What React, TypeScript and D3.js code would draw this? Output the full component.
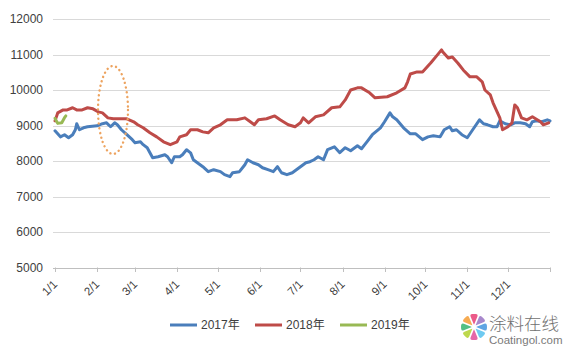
import React from 'react';
import * as d3 from 'd3';

const monthLabels = ['1/1', '2/1', '3/1', '4/1', '5/1', '6/1', '7/1', '8/1', '9/1', '10/1', '11/1', '12/1'];
const monthStartDays = [0, 31, 59, 90, 120, 151, 181, 212, 243, 273, 304, 334];
const yTicks = [5000, 6000, 7000, 8000, 9000, 10000, 11000, 12000];
const seriesNames = ['2017年', '2018年', '2019年'];
const seriesColors = ['#4A7EBB', '#BE4B48', '#98B954'];

const days2017 = [0, 4, 7, 10, 13, 15, 16, 18, 21, 24, 31, 35, 38, 41, 44, 46, 49, 53, 57, 59, 63, 65, 68, 70, 72, 76, 81, 83, 86, 88, 92, 94, 97, 100, 102, 105, 109, 113, 117, 122, 125, 129, 131, 136, 140, 142, 146, 150, 153, 157, 161, 164, 167, 171, 175, 178, 181, 185, 188, 191, 194, 198, 201, 206, 210, 214, 218, 223, 226, 230, 234, 240, 243, 247, 249, 252, 257, 262, 266, 271, 275, 279, 284, 287, 291, 293, 296, 300, 304, 308, 313, 316, 319, 323, 326, 328, 332, 336, 339, 343, 347, 350, 352, 355, 359, 363, 365];
const values2017 = [8850, 8680, 8740, 8655, 8740, 8880, 9050, 8880, 8935, 8965, 8990, 9050, 9075, 8965, 9075, 9020, 8880, 8740, 8600, 8515, 8540, 8460, 8375, 8235, 8090, 8120, 8175, 8120, 7950, 8120, 8120, 8175, 8315, 8230, 8035, 7950, 7840, 7700, 7755, 7700, 7615, 7560, 7670, 7700, 7895, 8035, 7950, 7895, 7810, 7755, 7700, 7840, 7670, 7615, 7670, 7755, 7840, 7950, 7980, 8035, 8120, 8035, 8320, 8400, 8235, 8375, 8290, 8430, 8345, 8540, 8740, 8935, 9105, 9355, 9245, 9160, 8935, 8765, 8765, 8600, 8680, 8710, 8680, 8880, 8965, 8850, 8880, 8740, 8655, 8880, 9160, 9050, 9020, 8965, 8965, 9130, 9050, 9020, 9075, 9075, 9050, 8965, 9105, 9130, 9105, 9160, 9130];

const days2018 = [0, 2, 6, 9, 13, 16, 20, 24, 28, 32, 35, 39, 43, 48, 53, 58, 61, 65, 70, 75, 80, 85, 90, 92, 97, 100, 105, 109, 113, 117, 122, 127, 134, 140, 144, 147, 150, 156, 162, 166, 172, 177, 181, 183, 187, 192, 198, 204, 210, 214, 218, 223, 226, 232, 236, 245, 252, 258, 260, 262, 267, 271, 277, 282, 285, 286, 290, 293, 297, 301, 306, 311, 315, 317, 321, 323, 326, 328, 330, 334, 337, 339, 341, 344, 348, 352, 358, 360, 364];
const values2018 = [9130, 9355, 9440, 9440, 9500, 9440, 9440, 9500, 9470, 9385, 9355, 9215, 9190, 9190, 9190, 9105, 9020, 8935, 8795, 8680, 8540, 8460, 8540, 8680, 8740, 8880, 8880, 8820, 8795, 8935, 9020, 9160, 9160, 9215, 9105, 9020, 9160, 9190, 9270, 9160, 9020, 8965, 9075, 9215, 9075, 9245, 9300, 9500, 9525, 9720, 10000, 10060, 10060, 9920, 9780, 9810, 9920, 10060, 10230, 10450, 10510, 10510, 10760, 10990, 11130, 11070, 10900, 10930, 10760, 10565, 10370, 10370, 10230, 10000, 9860, 9640, 9385, 9215, 8880, 8965, 9075, 9580, 9500, 9215, 9160, 9245, 9105, 9020, 9075];

const days2019 = [0, 2, 5, 7, 8];
const values2019 = [9200, 9060, 9080, 9220, 9270];

const W = 571;
const H = 355;

export default function App() {
  const x = d3.scaleLinear().domain([0, 365]).range([55, 550]);
  const y = d3.scaleLinear().domain([5000, 12000]).range([267.5, 19]);

  const line = d3
    .line<[number, number]>()
    .x((d) => x(d[0]))
    .y((d) => y(d[1]));

  const series = [
    d3.zip(days2017, values2017) as [number, number][],
    d3.zip(days2018, values2018) as [number, number][],
    d3.zip(days2019, values2019) as [number, number][],
  ];

  const petalColors = ['#E9487C', '#9E7BC6', '#4E9BE0', '#5EC4EF', '#E2559F', '#B6D43A', '#3FB877', '#F5A23F'];
  const arc = d3.arc<any>().innerRadius(2.5).outerRadius(13).cornerRadius(2).padAngle(0.12);
  const pie = d3.pie<number>().sort(null).startAngle(-Math.PI / 8).endAngle(2 * Math.PI - Math.PI / 8);
  const petals = pie(petalColors.map(() => 1));

  const font = "'Liberation Sans', Arial, 'Noto Sans CJK SC', sans-serif";
  const legendX = [170, 255, 340];

  return (
    <svg
      width={W}
      height={H}
      style={{ position: 'absolute', left: 0, top: 0, background: '#fff' }}
      fontFamily={font}
    >
      <rect x={0} y={0} width={W} height={H} fill="#fff" />
      {/* gridlines */}
      {yTicks.map((t) => (
        <line
          key={t}
          x1={53}
          x2={550}
          y1={Math.round(y(t)) + 0.5}
          y2={Math.round(y(t)) + 0.5}
          stroke={t === 5000 ? '#BFBFBF' : '#D9D9D9'}
          strokeWidth={1}
        />
      ))}
      {/* y labels */}
      {yTicks.map((t) => (
        <text key={t} x={43} y={y(t)} dy="0.35em" textAnchor="end" fontSize={12} fill="#404040">
          {t}
        </text>
      ))}
      {/* x ticks */}
      {[...monthStartDays, 365].map((d) => (
        <line
          key={d}
          x1={Math.round(x(d)) + 0.5}
          x2={Math.round(x(d)) + 0.5}
          y1={267.5}
          y2={272}
          stroke="#BFBFBF"
        />
      ))}
      {/* x labels */}
      {monthLabels.map((m, i) => {
        const px = x(monthStartDays[i]) + 3;
        const py = 285;
        return (
          <text
            key={m}
            transform={`translate(${px},${py}) rotate(-45)`}
            textAnchor="end"
            fontSize={11.5}
            fill="#404040"
          >
            {m}
          </text>
        );
      })}
      {/* series */}
      {series.map((s, i) => (
        <path
          key={i}
          d={line(s) || ''}
          fill="none"
          stroke={seriesColors[i]}
          strokeWidth={3}
          strokeLinejoin="round"
          strokeLinecap="round"
        />
      ))}
      {/* annotation ellipse */}
      <ellipse
        cx={113}
        cy={110}
        rx={15}
        ry={44}
        fill="none"
        stroke="#EDA35F"
        strokeWidth={2.4}
        strokeDasharray="0.1 4.6"
        strokeLinecap="round"
      />
      {/* legend */}
      {seriesNames.map((n, i) => (
        <g key={n}>
          <line x1={legendX[i]} x2={legendX[i] + 27} y1={325} y2={325} stroke={seriesColors[i]} strokeWidth={3} />
          <text x={legendX[i] + 31} y={325} dy="0.35em" fontSize={12} fill="#404040">
            {n}
          </text>
        </g>
      ))}
      {/* watermark */}
      <g transform="translate(474,327)">
        {petals.map((p, i) => (
          <path key={i} d={arc(p) || ''} fill={petalColors[i]} opacity={0.9} />
        ))}
      </g>
      <text x={489} y={329.5} fontSize={17.5} fill="#6F6F6F" fontFamily="'Noto Sans CJK SC', sans-serif" fontWeight={300}>
        涂料在线
      </text>
      <text x={489} y={344} fontSize={11.5} fill="#7A7A7A" fontFamily={font}>
        Coatingol.com
      </text>
    </svg>
  );
}
